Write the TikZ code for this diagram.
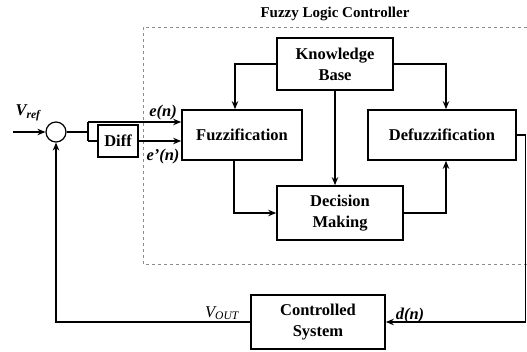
\documentclass[tikz,border=0pt]{standalone}
\usepackage{fontspec}
\setmainfont{Liberation Serif}
\usetikzlibrary{arrows.meta,calc}
\begin{document}
\begin{tikzpicture}[x=1pt,y=-1pt,
  box/.style={draw,line width=1.7pt,align=center,font=\fontsize{16.5}{21}\selectfont\bfseries,inner sep=0pt},
  arr/.style={line width=1.7pt,-{Stealth[length=8pt,width=6.5pt]}},
  ln/.style={line width=1.7pt},
  lbl/.style={font=\fontsize{16.5}{20}\selectfont\bfseries\itshape,inner sep=0pt},
  dsh/.style={draw=black!45,line width=0.8pt,dash pattern=on 3pt off 3pt}]
\useasboundingbox[fill=white] (0,0) rectangle (527,352);
\draw[dsh] (527,27) -- (143,27) -- (143,264) -- (527,264);
\node[font=\fontsize{15}{18}\selectfont\bfseries] (title) at (335,14) {Fuzzy Logic Controller};
\node[box,minimum width=116pt,minimum height=52pt] (kb) at (335,64) {Knowledge\\Base};
\node[box,minimum width=120pt,minimum height=50pt] (fz) at (242,135) {Fuzzification};
\node[box,minimum width=148pt,minimum height=50pt] (dfz) at (442,135) {Defuzzification};
\node[box,minimum width=126pt,minimum height=54pt] (dm) at (340,213) {Decision\\Making};
\node[box,minimum width=134pt,minimum height=54pt] (cs) at (318,322) {Controlled\\System};
\node[box,minimum width=40pt,minimum height=32pt] (diff) at (118,141) {Diff};
\node[draw,circle,line width=1.2pt,minimum size=20pt,inner sep=0pt] (sum) at (56,132) {};
\coordinate (in) at (13,132);
\coordinate (j) at (88,132);
\coordinate (jt) at (88,122);
\coordinate (jb) at (88,141);
\coordinate (r1) at (525.5,135);
\node[lbl] (vref) at (28,113) {V\textsubscript{\itshape ref}};
\node[lbl] (en) at (163,113) {e(n)};
\node[lbl] (edn) at (163,157) {e'(n)};
\node[lbl,font=\fontsize{16.5}{20}\selectfont\itshape] (vout) at (222,313) {V\textsubscript{OUT}};
\node[lbl] (dn) at (410,316) {d(n)};
% connectors
\draw[arr] (in) -- (sum.west);
\draw[ln] (sum.east) -- (j);
\draw[ln] (jt) -- (jb);
\draw[arr] (jt) -- (jt -| fz.west);
\draw[ln] (jb) -- (diff.west);
\draw[arr] (diff.east) -- (diff.east -| fz.west);
\draw[arr] (kb.west) -| ([xshift=-7pt]fz.north);
\draw[arr] (kb.east) -| ([xshift=4pt]dfz.north);
\draw[arr] (kb.south) -- (kb.south |- dm.north);
\draw[arr] ([xshift=-8pt]fz.south) |- (dm.west);
\draw[arr] (dm.east) -| ([xshift=4pt]dfz.south);
\draw[arr] (dfz.east) -- (r1) |- (cs.east);
\draw[arr] (cs.west) -| (sum.south);
\end{tikzpicture}
\end{document}
